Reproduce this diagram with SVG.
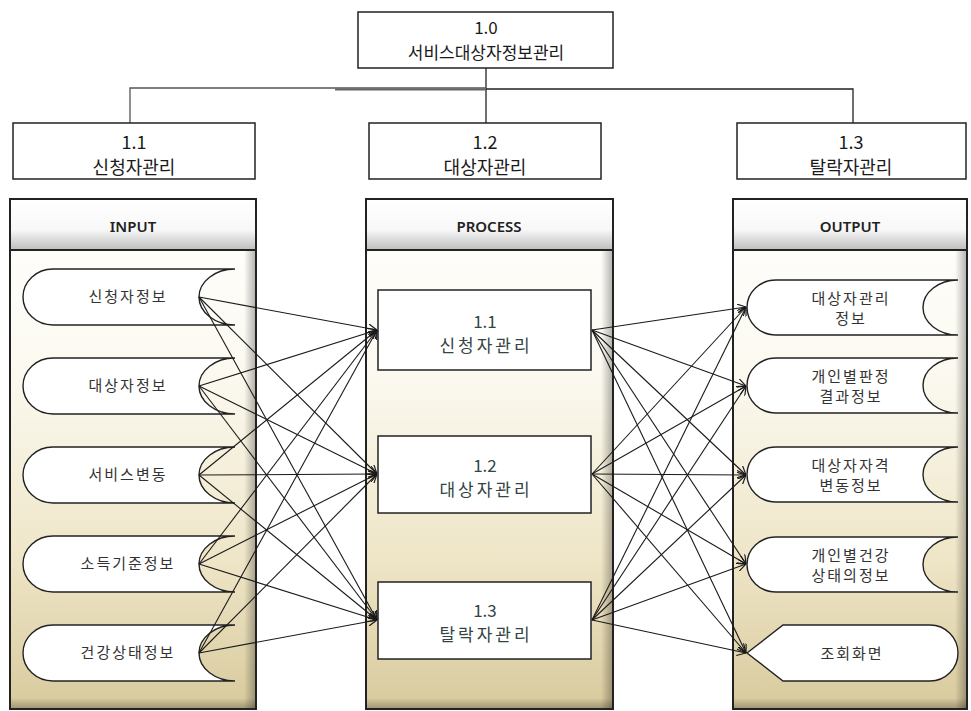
<svg xmlns="http://www.w3.org/2000/svg" width="971" height="711" viewBox="0 0 971 711">
<style>
.box{fill:#fff;stroke:#222;stroke-width:1.5}
.t{font-family:"Noto Sans CJK KR","Noto Sans",sans-serif;text-anchor:middle;fill:#1a1a1a}
.big{font-size:17px}
.ch{font-size:18px}
.hd{font-family:"Noto Sans","Noto Sans CJK KR",sans-serif;font-size:15px;font-weight:600;text-anchor:middle;fill:#222}
.sm{font-size:15px;fill:#333;letter-spacing:2px}
.pt{font-size:17px;fill:#344;letter-spacing:3px}
.pn{font-size:17px;fill:#344}
.shape{fill:#fff;stroke:#222;stroke-width:1.4}
.col{fill:url(#body);stroke:#222;stroke-width:2}
.hdr{fill:url(#head);stroke:#222;stroke-width:2}
.tree{fill:none;stroke:#222;stroke-width:1.3}
.cn line{stroke:#1a1a1a;stroke-width:1.1;marker-end:url(#arr)}
</style>
<defs>
<linearGradient id="body" x1="0" y1="0" x2="0" y2="1">
<stop offset="0" stop-color="#ffffff"/>
<stop offset="0.35" stop-color="#fbf9ef"/>
<stop offset="0.7" stop-color="#efe6c8"/>
<stop offset="1" stop-color="#d8ca9d"/>
</linearGradient>
<linearGradient id="head" x1="0" y1="0" x2="0" y2="1">
<stop offset="0" stop-color="#ffffff"/>
<stop offset="0.6" stop-color="#f8f8f8"/>
<stop offset="1" stop-color="#bdbdbd"/>
</linearGradient>
<linearGradient id="rs" x1="0" y1="0" x2="1" y2="0">
<stop offset="0" stop-color="#000" stop-opacity="0"/>
<stop offset="1" stop-color="#000" stop-opacity="0.28"/>
</linearGradient>
<linearGradient id="bs" x1="0" y1="0" x2="0" y2="1">
<stop offset="0" stop-color="#000" stop-opacity="0"/>
<stop offset="1" stop-color="#000" stop-opacity="0.25"/>
</linearGradient>
<marker id="arr" viewBox="0 0 10 10" refX="10" refY="5" markerWidth="9" markerHeight="9" markerUnits="userSpaceOnUse" orient="auto">
<path d="M0,0 L10,5 L0,10" fill="none" stroke="#1a1a1a" stroke-width="1.3"/>
</marker>
</defs>
<rect width="971" height="711" fill="#fff"/>

<!-- tree -->
<g id="tree-lines" class="tree">
<path d="M486 68 V123"/>
<path d="M130 123 V88 H486" stroke="#555"/>
<path d="M335 89.5 H486" stroke="#666" stroke-width="2"/>
<path d="M486 89 H853 V123"/>
</g>
<g id="n10"><rect class="box" x="358" y="12" width="255" height="56"/>
<text class="t big" x="486" y="34">1.0</text><text class="t big" x="486" y="59">서비스대상자정보관리</text></g>
<g id="n11"><rect class="box" x="13" y="123" width="242" height="56"/>
<text class="t ch" x="134" y="149">1.1</text><text class="t ch" x="134" y="174">신청자관리</text></g>
<g id="n12"><rect class="box" x="369" y="123" width="232" height="56"/>
<text class="t ch" x="485" y="149">1.2</text><text class="t ch" x="485" y="174">대상자관리</text></g>
<g id="n13"><rect class="box" x="737" y="123" width="229" height="56"/>
<text class="t ch" x="851" y="149">1.3</text><text class="t ch" x="851" y="174">탈락자관리</text></g>

<!-- columns -->
<g id="col-input">
<rect class="col" x="10" y="199" width="246" height="510"/>
<rect x="244" y="251" width="11" height="457" fill="url(#rs)"/>
<rect x="11" y="698" width="244" height="10" fill="url(#bs)"/>
<rect class="hdr" x="10" y="199" width="246" height="51"/>
<text class="hd" x="133" y="232">INPUT</text>
</g>
<g id="col-process">
<rect class="col" x="366" y="199" width="247" height="510"/>
<rect x="601" y="251" width="11" height="457" fill="url(#rs)"/>
<rect x="367" y="698" width="245" height="10" fill="url(#bs)"/>
<rect class="hdr" x="366" y="199" width="247" height="51"/>
<text class="hd" x="489" y="232">PROCESS</text>
</g>
<g id="col-output">
<rect class="col" x="733" y="199" width="234" height="510"/>
<rect x="955" y="251" width="11" height="457" fill="url(#rs)"/>
<rect x="734" y="698" width="232" height="10" fill="url(#bs)"/>
<rect class="hdr" x="733" y="199" width="234" height="51"/>
<text class="hd" x="850" y="232">OUTPUT</text>
</g>

<!-- input stores -->
<g id="in1"><path class="shape" d="M235 269 H53 A30 28 0 0 0 53 325 H235 A36 28 0 0 1 235 269 Z"/><text class="t sm" x="128" y="302">신청자정보</text></g>
<g id="in2"><path class="shape" d="M235 358 H53 A30 28 0 0 0 53 414 H235 A36 28 0 0 1 235 358 Z"/><text class="t sm" x="128" y="391">대상자정보</text></g>
<g id="in3"><path class="shape" d="M235 447 H53 A30 28 0 0 0 53 503 H235 A36 28 0 0 1 235 447 Z"/><text class="t sm" x="128" y="480">서비스변동</text></g>
<g id="in4"><path class="shape" d="M235 536 H53 A30 28 0 0 0 53 592 H235 A36 28 0 0 1 235 536 Z"/><text class="t sm" x="128" y="569">소득기준정보</text></g>
<g id="in5"><path class="shape" d="M235 625 H53 A30 28 0 0 0 53 681 H235 A36 28 0 0 1 235 625 Z"/><text class="t sm" x="128" y="658">건강상태정보</text></g>

<!-- processes -->
<g id="p11"><rect class="box" x="378" y="290" width="213" height="80"/><text class="t pn" x="485" y="328">1.1</text><text class="t pt" x="486" y="352">신청자관리</text></g>
<g id="p12"><rect class="box" x="378" y="436" width="213" height="77"/><text class="t pn" x="485" y="472">1.2</text><text class="t pt" x="486" y="496">대상자관리</text></g>
<g id="p13"><rect class="box" x="378" y="582" width="213" height="77"/><text class="t pn" x="485" y="617">1.3</text><text class="t pt" x="486" y="641">탈락자관리</text></g>

<!-- outputs -->
<g id="out1"><path class="shape" d="M958 280 H776 A29 27.5 0 0 0 776 335 H958 A35 27.5 0 0 1 958 280 Z"/><text class="t sm" x="851" y="304">대상자관리</text><text class="t sm" x="851" y="324">정보</text></g>
<g id="out2"><path class="shape" d="M958 358 H776 A29 27.5 0 0 0 776 413 H958 A35 27.5 0 0 1 958 358 Z"/><text class="t sm" x="851" y="382">개인별판정</text><text class="t sm" x="851" y="402">결과정보</text></g>
<g id="out3"><path class="shape" d="M958 447 H776 A29 27.5 0 0 0 776 502 H958 A35 27.5 0 0 1 958 447 Z"/><text class="t sm" x="851" y="471">대상자자격</text><text class="t sm" x="851" y="491">변동정보</text></g>
<g id="out4"><path class="shape" d="M958 537 H776 A29 27.5 0 0 0 776 592 H958 A35 27.5 0 0 1 958 537 Z"/><text class="t sm" x="851" y="561">개인별건강</text><text class="t sm" x="851" y="581">상태의정보</text></g>
<g id="out5"><path class="shape" d="M747 653 L783 625 H930 A28 28 0 0 1 930 681 H783 Z"/><text class="t sm" x="852" y="659">조회화면</text></g>

<!-- connectors -->
<g id="connectors" class="cn">
<line x1="199" y1="297" x2="377" y2="330"/>
<line x1="199" y1="297" x2="377" y2="474"/>
<line x1="199" y1="297" x2="377" y2="620"/>
<line x1="199" y1="386" x2="377" y2="330"/>
<line x1="199" y1="386" x2="377" y2="474"/>
<line x1="199" y1="386" x2="377" y2="620"/>
<line x1="199" y1="475" x2="377" y2="330"/>
<line x1="199" y1="475" x2="377" y2="474"/>
<line x1="199" y1="475" x2="377" y2="620"/>
<line x1="199" y1="564" x2="377" y2="330"/>
<line x1="199" y1="564" x2="377" y2="474"/>
<line x1="199" y1="564" x2="377" y2="620"/>
<line x1="199" y1="653" x2="377" y2="330"/>
<line x1="199" y1="653" x2="377" y2="474"/>
<line x1="199" y1="653" x2="377" y2="620"/>
<line x1="592" y1="330" x2="746" y2="307"/>
<line x1="592" y1="330" x2="746" y2="386"/>
<line x1="592" y1="330" x2="746" y2="475"/>
<line x1="592" y1="330" x2="746" y2="564"/>
<line x1="592" y1="330" x2="746" y2="653"/>
<line x1="592" y1="474" x2="746" y2="307"/>
<line x1="592" y1="474" x2="746" y2="386"/>
<line x1="592" y1="474" x2="746" y2="475"/>
<line x1="592" y1="474" x2="746" y2="564"/>
<line x1="592" y1="474" x2="746" y2="653"/>
<line x1="592" y1="620" x2="746" y2="307"/>
<line x1="592" y1="620" x2="746" y2="386"/>
<line x1="592" y1="620" x2="746" y2="475"/>
<line x1="592" y1="620" x2="746" y2="564"/>
<line x1="592" y1="620" x2="746" y2="653"/>
</g>
</svg>
